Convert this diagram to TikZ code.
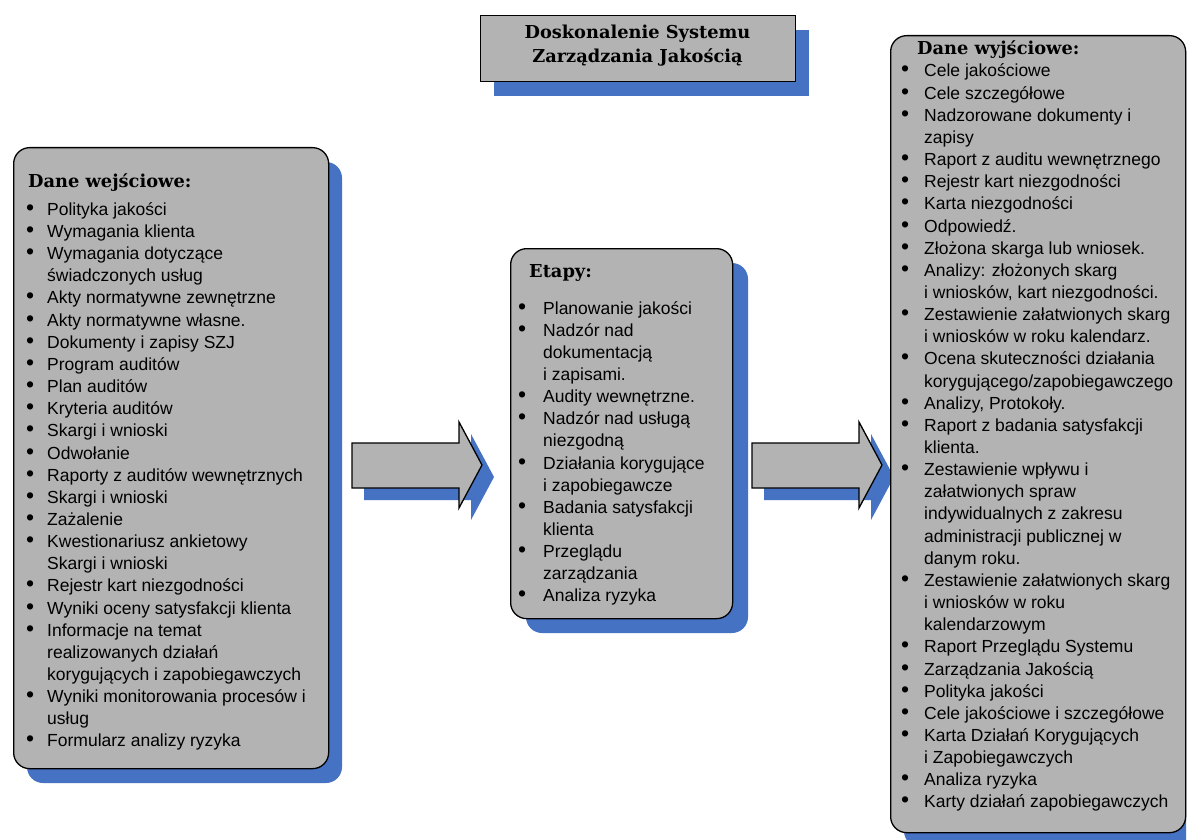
\documentclass[tikz,border=0pt]{standalone}
\usepackage{fontspec}
\setmainfont{Liberation Sans}
\newfontfamily\hdfont{DejaVu Serif}
\definecolor{boxgray}{RGB}{179,179,179}
\definecolor{shblue}{RGB}{70,114,196}
\newlength\bulw
\newcommand\bu{\makebox[\bulw][l]{\hspace*{-1pt}{\fontsize{23}{22}\selectfont\textbullet}}}
\newcommand\cn{\hspace*{\bulw}}
\begin{document}
\begin{tikzpicture}[x=1pt,y=-1pt,
  panel/.style={fill=boxgray,draw=black,line width=1.3pt,rounded corners=16pt,anchor=north west,inner sep=0pt},
  shadowpanel/.style={fill=shblue,rounded corners=16pt},
  blockarrow/.style={fill=boxgray,draw=black,line width=1.3pt,line join=miter},
  shadowarrow/.style={fill=shblue},
  hdr/.style={anchor=base west,inner sep=0pt,font=\hdfont\bfseries\fontsize{17.8}{20}\selectfont},
  lst/.style={anchor=base west,inner sep=0pt,font=\fontsize{17.5}{22.15}\selectfont}]
\useasboundingbox (0,0) rectangle (1192,840);
\fill[white] (0,0) rectangle (1192,840);

% title
\fill[shblue] (494,30) rectangle (809,96);
\node[draw=black,fill=boxgray,line width=1.3pt,minimum width=315,minimum height=66,anchor=north west,inner sep=0pt] (titlebox) at (480,15) {};
\node[anchor=base,inner sep=0pt,font=\hdfont\bfseries\fontsize{17.8}{24}\selectfont] (titletext) at (637.5,39)
  {\begin{tabular}[t]{@{}c@{}}Doskonalenie Systemu\\Zarządzania Jakością\end{tabular}};

% left panel
\fill[shadowpanel] (27,162) rectangle (342,783);
\node[panel,minimum width=315,minimum height=621] (inbox) at (13,147) {};
\node[hdr] (inhdr) at (28,188) {Dane wejściowe:};
\node[lst] (inlist) at (27,215.4) {\setlength\bulw{20pt}\begin{tabular}[t]{@{}l@{}}
\bu Polityka jakości\\
\bu Wymagania klienta\\
\bu Wymagania dotyczące\\
\cn świadczonych usług\\
\bu Akty normatywne zewnętrzne\\
\bu Akty normatywne własne.\\
\bu Dokumenty i zapisy SZJ\\
\bu Program auditów\\
\bu Plan auditów\\
\bu Kryteria auditów\\
\bu Skargi i wnioski\\
\bu Odwołanie\\
\bu Raporty z auditów wewnętrznych\\
\bu Skargi i wnioski\\
\bu Zażalenie\\
\bu Kwestionariusz ankietowy\\
\cn Skargi i wnioski\\
\bu Rejestr kart niezgodności\\
\bu Wyniki oceny satysfakcji klienta\\
\bu Informacje na temat\\
\cn realizowanych działań\\
\cn korygujących i zapobiegawczych\\
\bu Wyniki monitorowania procesów i\\
\cn usług\\
\bu Formularz analizy ryzyka
\end{tabular}};

% arrow 1
\fill[shadowarrow] (364,455) -- (471,455) -- (471,434) -- (494,477) -- (471,520) -- (471,500) -- (364,500) -- cycle;
\draw[blockarrow] (352,443) -- (459,443) -- (459,422) -- (482,465) -- (459,508) -- (459,488) -- (352,488) -- cycle;

% middle panel
\fill[shadowpanel] (526,263) rectangle (748,633);
\node[panel,minimum width=222,minimum height=370] (stagebox) at (510,248) {};
\node[hdr] (stagehdr) at (529,277) {Etapy:};
\node[lst] (stagelist) at (519,314) {\setlength\bulw{24pt}\begin{tabular}[t]{@{}l@{}}
\bu Planowanie jakości\\
\bu Nadzór nad\\
\cn dokumentacją\\
\cn i zapisami.\\
\bu Audity wewnętrzne.\\
\bu Nadzór nad usługą\\
\cn niezgodną\\
\bu Działania korygujące\\
\cn i zapobiegawcze\\
\bu Badania satysfakcji\\
\cn klienta\\
\bu Przeglądu\\
\cn zarządzania\\
\bu Analiza ryzyka
\end{tabular}};

% arrow 2
\fill[shadowarrow] (764,455) -- (871,455) -- (871,434) -- (894,477) -- (871,520) -- (871,500) -- (764,500) -- cycle;
\draw[blockarrow] (752,443) -- (859,443) -- (859,422) -- (882,465) -- (859,508) -- (859,488) -- (752,488) -- cycle;

% right panel
\begin{scope}
\clip (0,0) rectangle (1186,840);
\fill[shadowpanel] (904,50) rectangle (1199,847);
\end{scope}
\node[panel,minimum width=295,minimum height=797] (outbox) at (890,35) {};
\node[hdr] (outhdr) at (917,55) {Dane wyjściowe:};
\node[lst] (outlist) at (902,77) {\setlength\bulw{22pt}\begin{tabular}[t]{@{}l@{}}
\bu Cele jakościowe\\
\bu Cele szczegółowe\\
\bu Nadzorowane dokumenty i\\
\cn zapisy\\
\bu Raport z auditu wewnętrznego\\
\bu Rejestr kart niezgodności\\
\bu Karta niezgodności\\
\bu Odpowiedź.\\
\bu Złożona skarga lub wniosek.\\
\bu Analizy: złożonych skarg\\
\cn i wniosków, kart niezgodności.\\
\bu Zestawienie załatwionych skarg\\
\cn i wniosków w roku kalendarz.\\
\bu Ocena skuteczności działania\\
\cn korygującego/zapobiegawczego\\
\bu Analizy, Protokoły.\\
\bu Raport z badania satysfakcji\\
\cn klienta.\\
\bu Zestawienie wpływu i\\
\cn załatwionych spraw\\
\cn indywidualnych z zakresu\\
\cn administracji publicznej w\\
\cn danym roku.\\
\bu Zestawienie załatwionych skarg\\
\cn i wniosków w roku\\
\cn kalendarzowym\\
\bu Raport Przeglądu Systemu\\
\bu Zarządzania Jakością\\
\bu Polityka jakości\\
\bu Cele jakościowe i szczegółowe\\
\bu Karta Działań Korygujących\\
\cn i Zapobiegawczych\\
\bu Analiza ryzyka\\
\bu Karty działań zapobiegawczych
\end{tabular}};
\end{tikzpicture}
\end{document}
